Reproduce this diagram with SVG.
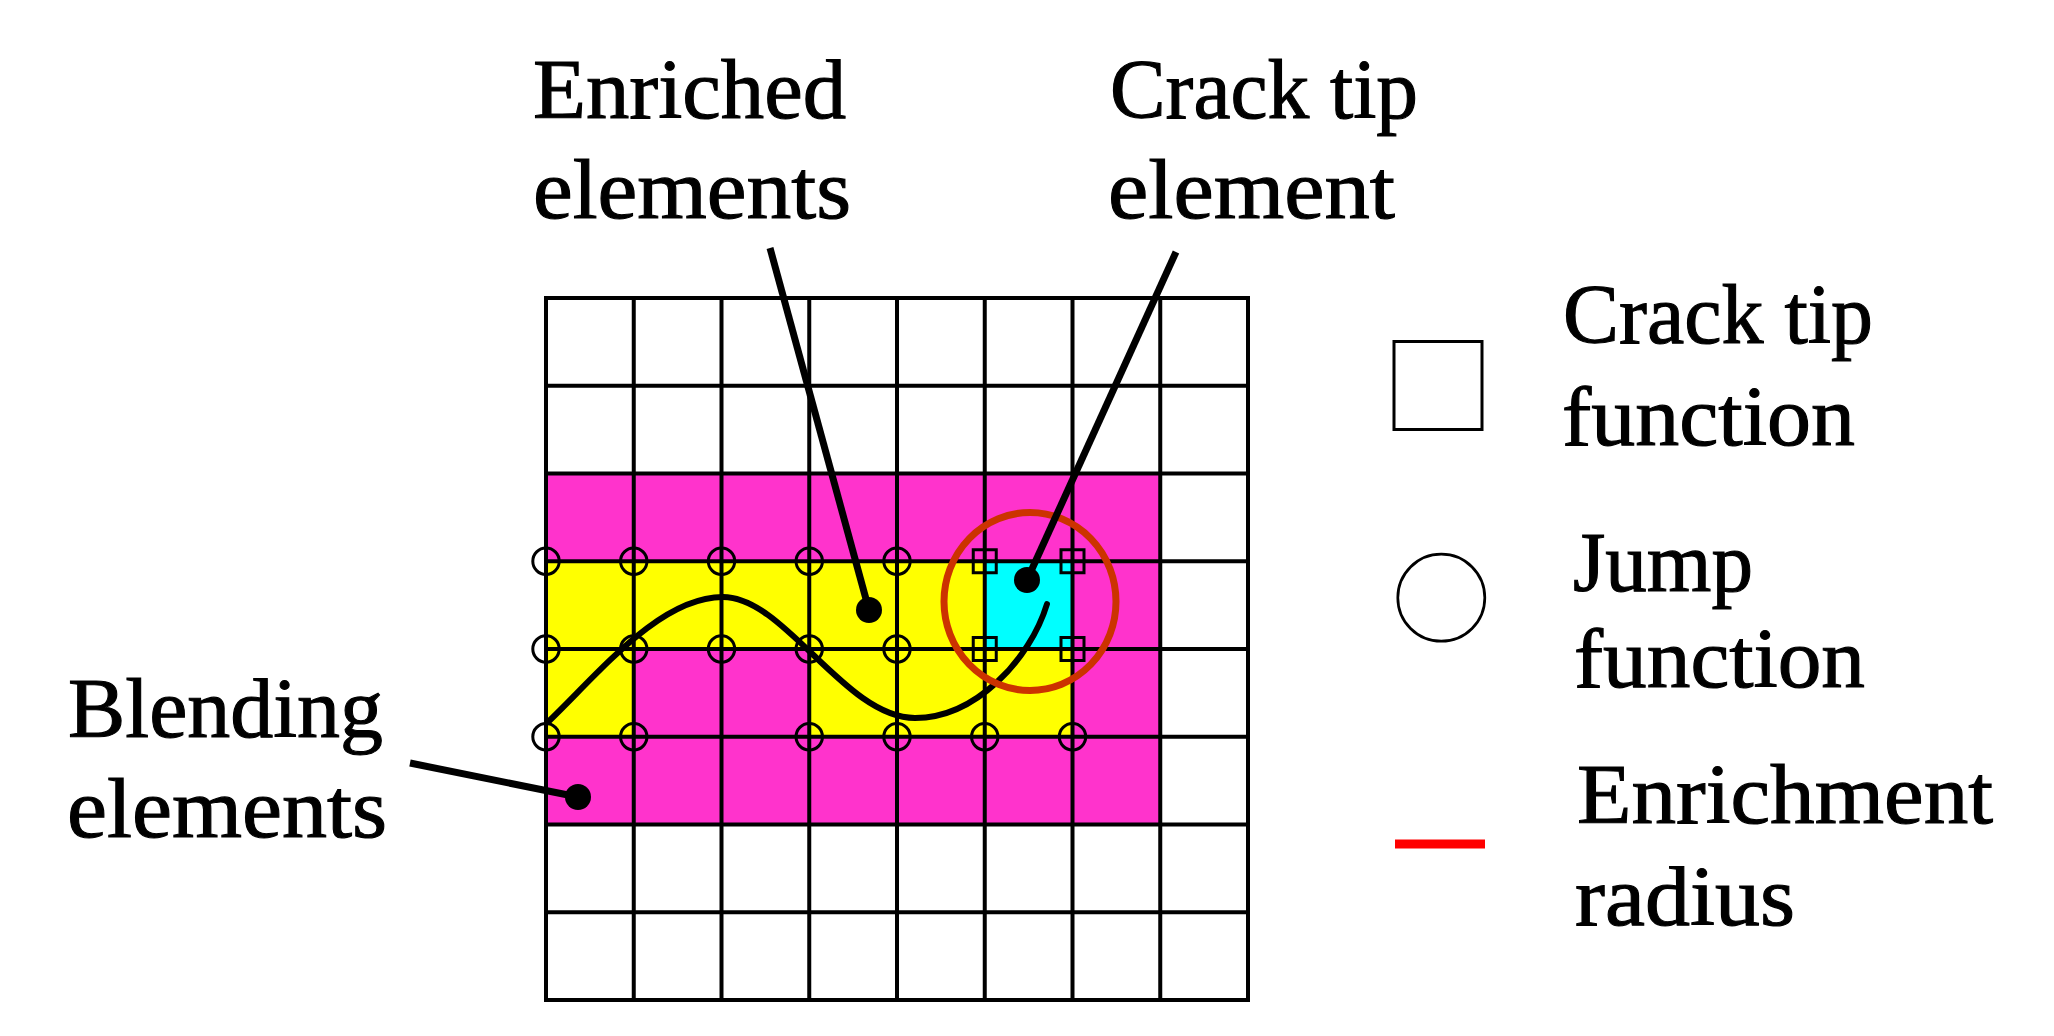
<svg xmlns="http://www.w3.org/2000/svg" width="2054" height="1036" viewBox="0 0 2054 1036">
<style>
  .lbl { font-family: "Liberation Serif", "Times New Roman", serif; font-size: 85px; fill: #000; stroke: #000; stroke-width: 1.1; }
  .grid { fill: none; stroke: #000; stroke-width: 4; stroke-linecap: square; }
  .jump { fill: none; stroke: #000; stroke-width: 3; }
  .tip { fill: none; stroke: #000; stroke-width: 3; }
  .leader { stroke: #000; stroke-width: 7; fill: none; }
  .dot { fill: #000; }
</style>
<defs>
  <circle id="jc" r="13.2" class="jump"/>
  <rect id="ts" x="-11.5" y="-11.5" width="23" height="23" class="tip"/>
</defs>
<rect width="2054" height="1036" fill="#fff"/>

<g id="mesh">
  <rect x="546" y="473.5" width="614.25" height="351" fill="#FF33CC"/>
  <rect x="546" y="561.25" width="438.75" height="87.75" fill="#FFFF00"/>
  <rect x="984.75" y="561.25" width="87.75" height="87.75" fill="#00FFFF"/>
  <rect x="546" y="649" width="87.75" height="87.75" fill="#FFFF00"/>
  <rect x="809.25" y="649" width="263.25" height="87.75" fill="#FFFF00"/>
  <path class="grid" d="M546,298V1000M633.75,298V1000M721.5,298V1000M809.25,298V1000M897,298V1000M984.75,298V1000M1072.5,298V1000M1160.25,298V1000M1248,298V1000M546,298H1248M546,385.75H1248M546,473.5H1248M546,561.25H1248M546,649H1248M546,736.75H1248M546,824.5H1248M546,912.25H1248M546,1000H1248"/>
</g>

<g id="crack">
  <path d="M548,722 C600,672 660,597 723,597 C785,597 845,718 915,718 C975,718 1030,660 1047,604" fill="none" stroke="#000" stroke-width="6" stroke-linecap="round"/>
</g>

<g id="jump-nodes">
  <use href="#jc" x="546" y="561.25"/><use href="#jc" x="633.75" y="561.25"/><use href="#jc" x="721.5" y="561.25"/><use href="#jc" x="809.25" y="561.25"/><use href="#jc" x="897" y="561.25"/>
  <use href="#jc" x="546" y="649"/><use href="#jc" x="633.75" y="649"/><use href="#jc" x="721.5" y="649"/><use href="#jc" x="809.25" y="649"/><use href="#jc" x="897" y="649"/>
  <use href="#jc" x="546" y="736.75"/><use href="#jc" x="633.75" y="736.75"/><use href="#jc" x="809.25" y="736.75"/><use href="#jc" x="897" y="736.75"/><use href="#jc" x="984.75" y="736.75"/><use href="#jc" x="1072.5" y="736.75"/>
</g>

<g id="tip-nodes">
  <use href="#ts" x="984.75" y="561.25"/><use href="#ts" x="1072.5" y="561.25"/>
  <use href="#ts" x="984.75" y="649"/><use href="#ts" x="1072.5" y="649"/>
</g>

<g id="enrichment-radius">
  <ellipse cx="1030" cy="601.5" rx="86" ry="89" fill="none" stroke="#CC3300" stroke-width="7"/>
</g>

<g id="connectors">
  <line class="leader" x1="770" y1="248" x2="869" y2="610"/>
  <line class="leader" x1="1176" y1="252" x2="1027" y2="580"/>
  <line class="leader" x1="410" y1="763" x2="578" y2="797"/>
  <circle class="dot" cx="869" cy="610" r="13"/>
  <circle class="dot" cx="1027" cy="580" r="13"/>
  <circle class="dot" cx="578" cy="797" r="13"/>
</g>

<g id="label-enriched">
  <text class="lbl" x="533" y="118" textLength="313" lengthAdjust="spacingAndGlyphs">Enriched</text>
  <text class="lbl" x="533" y="218" textLength="318" lengthAdjust="spacingAndGlyphs">elements</text>
</g>
<g id="label-cracktip">
  <text class="lbl" x="1110" y="118" textLength="308" lengthAdjust="spacingAndGlyphs">Crack tip</text>
  <text class="lbl" x="1108" y="218" textLength="287" lengthAdjust="spacingAndGlyphs">element</text>
</g>
<g id="label-blending">
  <text class="lbl" x="68" y="737" textLength="315" lengthAdjust="spacingAndGlyphs">Blending</text>
  <text class="lbl" x="67" y="837" textLength="320" lengthAdjust="spacingAndGlyphs">elements</text>
</g>

<g id="legend-crack-tip">
  <rect x="1394" y="341.5" width="88" height="88" fill="none" stroke="#000" stroke-width="3"/>
  <text class="lbl" x="1563" y="343" textLength="310" lengthAdjust="spacingAndGlyphs">Crack tip</text>
  <text class="lbl" x="1562" y="445" textLength="293" lengthAdjust="spacingAndGlyphs">function</text>
</g>
<g id="legend-jump">
  <circle cx="1441.3" cy="597.7" r="43.5" fill="none" stroke="#000" stroke-width="2.7"/>
  <text class="lbl" x="1573" y="591" textLength="180" lengthAdjust="spacingAndGlyphs">Jump</text>
  <text class="lbl" x="1574" y="687" textLength="291" lengthAdjust="spacingAndGlyphs">function</text>
</g>
<g id="legend-radius">
  <rect x="1395" y="839.5" width="90" height="9" fill="#FF0000"/>
  <text class="lbl" x="1577" y="823" textLength="416" lengthAdjust="spacingAndGlyphs">Enrichment</text>
  <text class="lbl" x="1575" y="925" textLength="220" lengthAdjust="spacingAndGlyphs">radius</text>
</g>
</svg>
